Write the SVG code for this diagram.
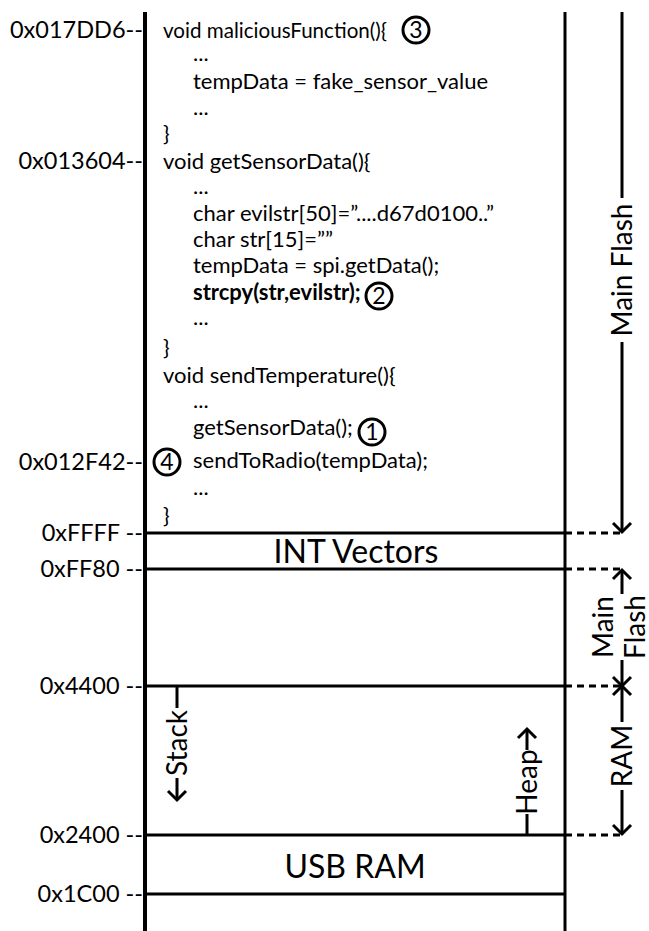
<svg xmlns="http://www.w3.org/2000/svg" width="649" height="931" viewBox="0 0 649 931">
<style>
text{font-family:Lato,"Liberation Sans",sans-serif;fill:#000}
.code{font-size:22px}
.b{font-weight:bold}
.addr{font-size:23.5px;text-anchor:end}
.big{font-size:32px;text-anchor:middle}
.side{font-size:28px;text-anchor:middle}
.ln{stroke:#000;stroke-width:3;fill:none}
.dash{stroke:#000;stroke-width:3;stroke-dasharray:7 5;fill:none}
.circ{fill:none;stroke:#000;stroke-width:3}
.ntxt{font-size:23px;text-anchor:middle}
.arr{stroke:#000;stroke-width:3;fill:none;marker-end:url(#ah)}
</style>
<defs>
<marker id="ah" markerUnits="userSpaceOnUse" viewBox="-12 -12 14 24" refX="0" refY="0" markerWidth="14" markerHeight="24" orient="auto" overflow="visible">
<path d="M-9,-9 L0,0 L-9,9" fill="none" stroke="#000" stroke-width="3" stroke-linejoin="miter"/>
</marker>
</defs>
<rect width="649" height="931" fill="#fff"/>

<g id="memory-frame">
<line class="ln" x1="145" y1="12" x2="145" y2="931" style="stroke-width:4"/>
<line class="ln" x1="565" y1="12" x2="565" y2="931"/>
</g>

<g id="connectors">
<line class="ln" x1="145" y1="533" x2="565" y2="533"/>
<line class="dash" x1="565" y1="533" x2="620" y2="533"/>
<line class="ln" x1="145" y1="569" x2="565" y2="569"/>
<line class="dash" x1="565" y1="569" x2="620" y2="569"/>
<line class="ln" x1="145" y1="686" x2="565" y2="686"/>
<line class="dash" x1="565" y1="686" x2="620" y2="686"/>
<line class="ln" x1="145" y1="835" x2="565" y2="835"/>
<line class="dash" x1="565" y1="835" x2="620" y2="835"/>
<line class="ln" x1="145" y1="894" x2="565" y2="894"/>
<!-- Main Flash (top) -->
<line class="ln" x1="622" y1="12" x2="622" y2="198"/>
<line class="arr" x1="622" y1="342" x2="622" y2="532"/>
<!-- Main Flash (small) -->
<line class="arr" x1="622" y1="594" x2="622" y2="570"/>
<line class="arr" x1="622" y1="660" x2="622" y2="686"/>
<!-- RAM -->
<line class="arr" x1="622" y1="722" x2="622" y2="686"/>
<line class="arr" x1="622" y1="790" x2="622" y2="834"/>
<!-- Stack -->
<line class="ln" x1="177" y1="686" x2="177" y2="708"/>
<line class="arr" x1="177" y1="778" x2="177" y2="800"/>
<!-- Heap -->
<line class="ln" x1="527" y1="835" x2="527" y2="814"/>
<line class="arr" x1="527" y1="750" x2="527" y2="729"/>
</g>

<g id="addresses">
<text class="addr" x="143" y="38">0x017DD6--</text>
<text class="addr" x="143" y="169">0x013604--</text>
<text class="addr" x="143" y="470">0x012F42--</text>
<text class="addr" x="143" y="541">0xFFFF --</text>
<text class="addr" x="143" y="577">0xFF80 --</text>
<text class="addr" x="143" y="694">0x4400 --</text>
<text class="addr" x="143" y="843">0x2400 --</text>
<text class="addr" x="143" y="902">0x1C00 --</text>
</g>

<g id="code-maliciousFunction">
<text class="code" x="163" y="38" textLength="224" lengthAdjust="spacingAndGlyphs">void maliciousFunction(){</text>
<text class="code" x="193" y="61">...</text>
<text class="code" x="193" y="89">tempData = fake_sensor_value</text>
<text class="code" x="193" y="115">...</text>
<text class="code" x="163" y="141">}</text>
</g>

<g id="code-getSensorData">
<text class="code" x="163" y="169">void getSensorData(){</text>
<text class="code" x="193" y="194">...</text>
<text class="code" x="193" y="221">char evilstr[50]=”....d67d0100..”</text>
<text class="code" x="193" y="247">char str[15]=””</text>
<text class="code" x="193" y="273">tempData = spi.getData();</text>
<text class="code b" x="193" y="300">strcpy(str,evilstr);</text>
<text class="code" x="193" y="325">...</text>
<text class="code" x="163" y="355">}</text>
</g>

<g id="code-sendTemperature">
<text class="code" x="163" y="383">void sendTemperature(){</text>
<text class="code" x="193" y="408">...</text>
<text class="code" x="193" y="435">getSensorData();</text>
<text class="code" x="193" y="468">sendToRadio(tempData);</text>
<text class="code" x="193" y="495">...</text>
<text class="code" x="163" y="523">}</text>
</g>

<g id="step-1"><circle class="circ" cx="372" cy="432" r="13"/><text class="ntxt" x="372" y="440">1</text></g>
<g id="step-2"><circle class="circ" cx="379" cy="296" r="13"/><text class="ntxt" x="379" y="304">2</text></g>
<g id="step-3"><circle class="circ" cx="416" cy="30" r="13"/><text class="ntxt" x="416" y="38">3</text></g>
<g id="step-4"><circle class="circ" cx="167" cy="462" r="13"/><text class="ntxt" x="167" y="470">4</text></g>

<g id="region-int-vectors"><text class="big" x="356" y="563">INT Vectors</text></g>
<g id="region-usb-ram"><text class="big" x="355" y="878">USB RAM</text></g>

<g id="label-main-flash"><text class="side" transform="translate(622,270) rotate(-90)" y="10">Main Flash</text></g>
<g id="label-main-flash-2">
<text class="side" transform="translate(613,627) rotate(-90)">Main</text>
<text class="side" transform="translate(645,627) rotate(-90)">Flash</text>
</g>
<g id="label-ram"><text class="side" transform="translate(622,756) rotate(-90)" y="10">RAM</text></g>
<g id="label-stack"><text class="side" transform="translate(177,743) rotate(-90)" y="10">Stack</text></g>
<g id="label-heap"><text class="side" transform="translate(527,782) rotate(-90)" y="10">Heap</text></g>
</svg>
